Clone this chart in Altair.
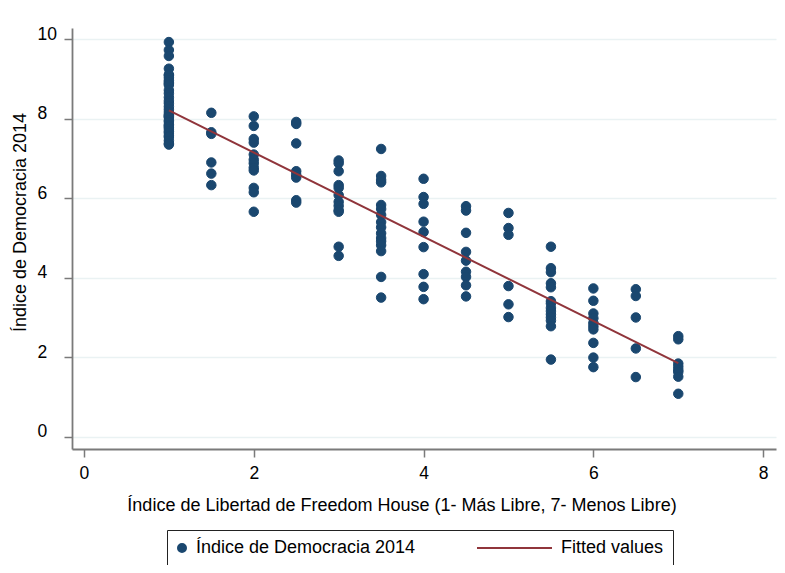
import altair as alt
import pandas as pd

# Freedom House levels (x) and Democracy Index 2014 values (y)
fh_levels = [1, 1.5, 2, 2.5, 3, 3.5, 4, 4.5, 5, 5.5, 6, 6.5, 7]
dem_fh_1 = [9.93, 9.73, 9.58, 9.26, 9.11, 9.09, 9.03, 8.96, 8.92, 8.88, 8.85, 8.72,
            8.64, 8.54, 8.45, 8.39, 8.31, 8.24, 8.17, 8.11, 8.08, 8.05, 8.04, 7.96,
            7.92, 7.85, 7.82, 7.79, 7.74, 7.68, 7.64, 7.57, 7.54, 7.45, 7.38, 7.35]
dem_fh_1_5 = [8.15, 7.66, 7.62, 6.9, 6.62, 6.33]
dem_fh_2 = [8.06, 7.82, 7.49, 7.4, 7.1, 6.97, 6.88, 6.77, 6.7, 6.26, 6.15, 5.66]
dem_fh_2_5 = [7.92, 7.87, 7.38, 6.68, 6.59, 6.52, 5.95, 5.89]
dem_fh_3 = [6.95, 6.88, 6.68, 6.33, 6.26, 6.08, 5.91, 5.81, 5.7, 5.66, 4.78, 4.55]
dem_fh_3_5 = [7.24, 6.56, 6.46, 6.4, 5.83, 5.73, 5.58, 5.4, 5.27, 5.12, 5.0, 4.92,
              4.82, 4.67, 4.02, 3.5]
dem_fh_4 = [6.49, 6.03, 5.86, 5.41, 5.15, 4.77, 4.09, 3.77, 3.46]
dem_fh_4_5 = [5.8, 5.69, 5.13, 4.65, 4.43, 4.15, 4.02, 3.81, 3.53]
dem_fh_5 = [5.63, 5.25, 5.08, 3.79, 3.33, 3.01]
dem_fh_5_5 = [4.78, 4.24, 4.14, 3.86, 3.76, 3.41, 3.35, 3.24, 3.16, 3.08, 3.0, 2.92,
              2.78, 1.94]
dem_fh_6 = [3.73, 3.42, 3.1, 2.98, 2.86, 2.78, 2.7, 2.36, 1.99, 1.75]
dem_fh_6_5 = [3.71, 3.54, 3.0, 2.22, 1.5]
dem_fh_7 = [2.53, 2.45, 1.84, 1.76, 1.68, 1.63, 1.51, 1.08]
dem_groups = [dem_fh_1, dem_fh_1_5, dem_fh_2, dem_fh_2_5, dem_fh_3, dem_fh_3_5, dem_fh_4,
              dem_fh_4_5, dem_fh_5, dem_fh_5_5, dem_fh_6, dem_fh_6_5, dem_fh_7]

series_names = ["Índice de Democracia 2014", "Fitted values"]
series_colors = ["#1a476f", "#90353b"]
legend_shapes = ["circle", "M-17.5,0H1.25"]
x_ticks = [0, 2, 4, 6, 8]
y_ticks = [0, 2, 4, 6, 8, 10]

rows = []
for f, vals in zip(fh_levels, dem_groups):
    for d in vals:
        rows.append({"fh": f, "dem": d, "series": series_names[0]})
df = pd.DataFrame(rows)

FONT = "Liberation Sans"
AXIS_GRAY = "#7a7a7a"

legend = alt.Legend(
    title=None, orient="none", legendX=95, legendY=502, direction="horizontal",
    symbolSize=64, symbolStrokeWidth=2, symbolOffset=-3, labelOffset=5, columnPadding=57,
    padding=9, strokeColor="#222222", labelFont=FONT, labelFontSize=18,
    labelColor="black", labelLimit=400,
)

x_enc = alt.X("fh:Q",
    scale=alt.Scale(domain=[-0.141, 8.151], nice=False, zero=False),
    axis=alt.Axis(values=x_ticks, grid=False, tickSize=8, tickWidth=1.5, tickColor=AXIS_GRAY,
                  domainColor=AXIS_GRAY, domainWidth=1.8, labelFont=FONT, labelFontSize=17.5,
                  labelColor="black", labelBaseline="alphabetic", labelPadding=21,
                  labelFlush=False, labelOverlap=False,
                  title="Índice de Libertad de Freedom House (1- Más Libre, 7- Menos Libre)",
                  titleFont=FONT, titleFontSize=18, titleFontWeight="normal", titleColor="black",
                  titleX=329.5, titleY=61, titleBaseline="alphabetic", titleAlign="center"))
y_enc = alt.Y("dem:Q",
    scale=alt.Scale(domain=[-0.31, 10.284], nice=False, zero=False),
    axis=alt.Axis(values=y_ticks, grid=True, gridColor="#eaf2f3", gridWidth=1.5,
                  tickSize=8, tickWidth=1.5, tickColor=AXIS_GRAY,
                  domainColor=AXIS_GRAY, domainWidth=1.8, labelFont=FONT, labelFontSize=17.5,
                  labelColor="black", labelAlign="left", labelBaseline="middle",
                  labelPadding=27, labelOffset=-5, labelFlush=False, labelOverlap=False,
                  title="Índice de Democracia 2014", titleFont=FONT, titleFontSize=18,
                  titleFontWeight="normal", titleColor="black", titleAngle=270,
                  titleX=-47, titleY=194, titleBaseline="alphabetic", titleAlign="center"))

color_enc = alt.Color("series:N", scale=alt.Scale(domain=series_names, range=series_colors), legend=legend)

points = alt.Chart(df).mark_point(filled=True, size=90, opacity=1, strokeWidth=1).encode(
    x=x_enc, y=y_enc,
    color=color_enc,
    stroke=alt.Stroke("series:N", scale=alt.Scale(domain=series_names, range=series_colors), legend=legend),
    shape=alt.Shape("series:N", scale=alt.Scale(domain=series_names, range=legend_shapes), legend=legend),
)

fit = alt.Chart(df).transform_regression("fh", "dem").transform_calculate(
    series="'Fitted values'"
).mark_line(strokeWidth=2).encode(
    x=x_enc, y=y_enc, color=color_enc,
)

chart = alt.layer(points, fit).properties(
    width=704, height=421,
    autosize=alt.AutoSizeParams(type="none"),
    padding={"left": 64, "top": 20, "right": 1, "bottom": 116},
    background="white",
).configure_view(stroke=None)

chart.save("out.html", embed_options={"renderer": "svg", "actions": False})
